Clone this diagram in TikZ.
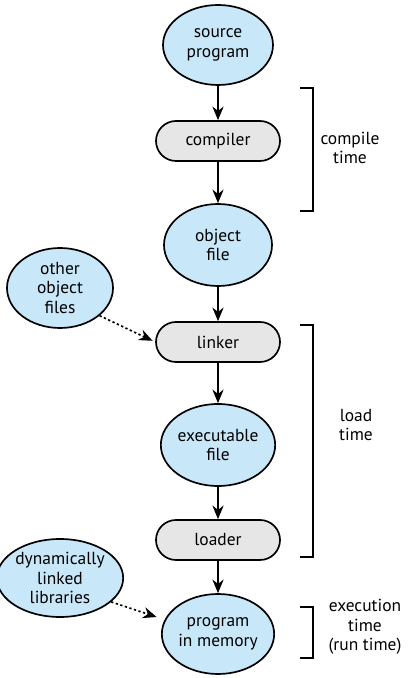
\documentclass[tikz,border=0pt]{standalone}
\usepackage{fontspec}
\setmainfont{PT Sans}
\usetikzlibrary{shapes.geometric,arrows.meta}
\definecolor{filebl}{RGB}{200,232,250}
\definecolor{toolgr}{RGB}{230,230,230}

\begin{document}
\begin{tikzpicture}[font=\fontsize{12.4}{14}\selectfont,
    file/.style={ellipse,draw,line width=1.2pt,fill=filebl,inner sep=0pt,
      minimum width=2.75cm,minimum height=2cm,align=center},
    tool/.style={draw,line width=1.2pt,fill=toolgr,rounded corners=.5cm,
      minimum width=3.1cm,minimum height=1cm},
    arr/.style={line width=1.2pt,-{Stealth[length=3.4mm,width=2.8mm]}},
    dotarr/.style={arr,dash pattern=on 1.6pt off 1.8pt,shorten >=2pt},
    brace/.style={line width=1.5pt}]
  \useasboundingbox (0,0) rectangle (10.3,16.95);
  \node[file] (source) at (5.45,15.825) {source\\program};
  \node[tool] (compiler) at (5.45,13.425) {compiler};
  \node[file,minimum width=2.7cm,minimum height=2.05cm] (object) at (5.45,10.825) {object\\file};
  \node[tool] (linker) at (5.45,8.4) {linker};
  \node[file,minimum width=2.8cm,minimum height=2.05cm] (exec) at (5.45,5.825) {executable\\file};
  \node[tool] (loader) at (5.45,3.45) {loader};
  \node[file] (memory) at (5.45,1.1) {program\\in memory};
  \node[file,minimum width=2.65cm] (other) at (1.5,9.75) {other\\object\\files};
  \node[file,minimum width=2.7cm,minimum height=1.95cm] (dynlib) at (1.5,2.5) {dynamically\\linked\\libraries};

  \draw[arr] (source) -- (compiler);
  \draw[arr] (compiler) -- (object);
  \draw[arr] (object) -- (linker);
  \draw[arr] (linker) -- (exec);
  \draw[arr] (exec) -- (loader);
  \draw[arr] (loader) -- (memory);
  \draw[dotarr] (other.-35) -- (linker.west);
  \draw[dotarr,shorten >=6pt] (dynlib.-25) -- (memory.165);

  % time brackets
  \draw[brace] (7.5,14.75) -- (7.825,14.75) -- (7.825,11.675) -- (7.5,11.675);
  \draw[brace] (7.5,8.825) -- (7.825,8.825) -- (7.825,3.025) -- (7.5,3.025);
  \draw[brace] (7.5,1.775) -- (7.825,1.775) -- (7.825,.5) -- (7.5,.5);
  \node[align=center] (ctime) at (8.75,13.25) {compile\\time};
  \node[align=center] (ltime) at (8.9,6.325) {load\\time};
  \node[align=center] (xtime) at (9.125,1.275) {execution\\time\\(run time)};
\end{tikzpicture}
\end{document}
